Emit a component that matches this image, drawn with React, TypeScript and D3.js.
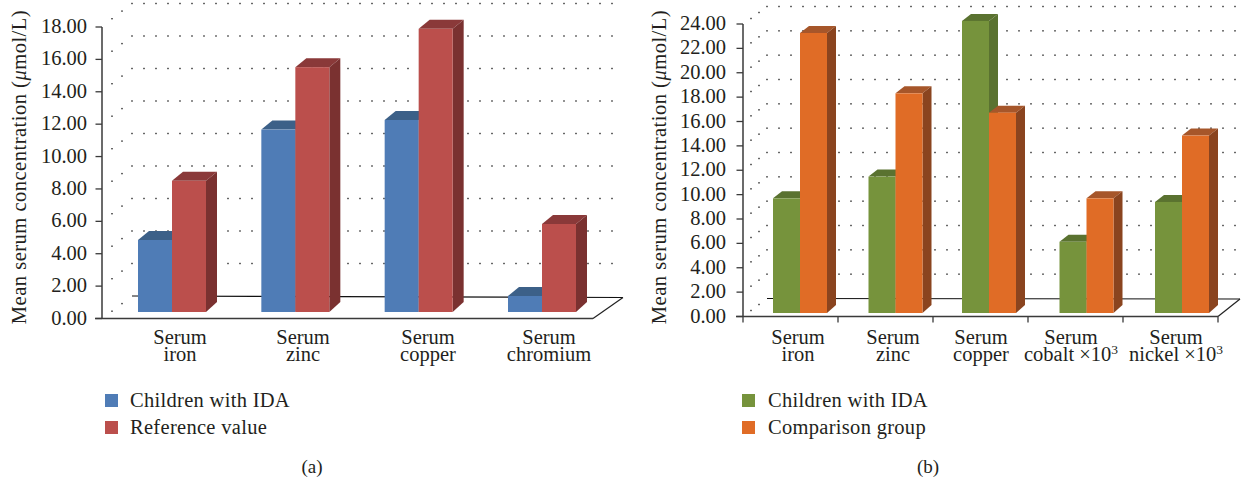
import React from "react";
import * as d3 from "d3";

// ---- data ----
const categoriesA = ["Serum iron", "Serum zinc", "Serum copper", "Serum chromium"];
const idaA = [4.5, 11.4, 12.0, 1.0];
const referenceA = [8.2, 15.3, 17.7, 5.5];
const ticksA = [0, 2, 4, 6, 8, 10, 12, 14, 16, 18];
const seriesNamesA = ["Children with IDA", "Reference value"];

const categoriesB = ["Serum iron", "Serum zinc", "Serum copper", "Serum cobalt", "Serum nickel"];
const idaB = [9.5, 11.3, 24.2, 5.9, 9.2];
const comparisonB = [23.2, 18.2, 16.6, 9.5, 14.7];
const ticksB = [0, 2, 4, 6, 8, 10, 12, 14, 16, 18, 20, 22, 24];
const seriesNamesB = ["Children with IDA", "Comparison group"];
const suffixB = ["", "", "", "×10", "×10"];

const FONT = "'Liberation Serif', serif";
const FS = 20.5;

type Palette = { front: string; top: string; side: string };
const BLUE: Palette = { front: "#4f7cb6", top: "#3c6088", side: "#3c6088" };
const RED: Palette = { front: "#bb4f4c", top: "#8a3939", side: "#7a3130" };
const GREEN: Palette = { front: "#76933c", top: "#5a7230", side: "#5a7230" };
const ORANGE: Palette = { front: "#e06c26", top: "#a6562a", side: "#8a441f" };

type Layout = {
  axisX: number; axisTop: number; axisBottom: number; axisRight: number; tickLabelX: number;
  wallLeft: number; wallRight: number; wallY0: number; wallY1: number; wallTopY: number;
  dotStep: number; sideStep: number; sideDrop: number;
  barBase: number; barPxPerUnit: number; firstBar: number; lastBar: number; barW: number; barNudge: number[];
  depthX: number; depthY: number;
  bottomTicks: boolean; labelX: number[]; legendX: number; legendTextX: number; captionX: number;
  titleX: number; titleY: number;
};

const layoutA: Layout = {
  axisX: 102, axisTop: 27, axisBottom: 318.5, axisRight: 593, tickLabelX: 87,
  wallLeft: 132, wallRight: 623, wallY0: 296, wallY1: 297.5, wallTopY: 3.5,
  dotStep: 12, sideStep: 10, sideDrop: 7.6,
  barBase: 312, barPxPerUnit: 16, firstBar: 138, lastBar: 508, barW: 34, barNudge: [0, 0, 0, 0],
  depthX: 11, depthY: 9,
  bottomTicks: false, labelX: [180, 303, 428, 549], legendX: 105, legendTextX: 130, captionX: 312,
  titleX: 26, titleY: 167,
};

const layoutB: Layout = {
  axisX: 743, axisTop: 24, axisBottom: 316.5, axisRight: 1218, tickLabelX: 726,
  wallLeft: 767, wallRight: 1240, wallY0: 298.5, wallY1: 299, wallTopY: 6.5,
  dotStep: 12, sideStep: 8, sideDrop: 6,
  barBase: 313, barPxPerUnit: 12.07, firstBar: 773, lastBar: 1155, barW: 27, barNudge: [0, 0, -2, 0, 0],
  depthX: 9, depthY: 7,
  bottomTicks: true, labelX: [798, 893, 981, 1071, 1176], legendX: 742, legendTextX: 768, captionX: 928,
  titleX: 666, titleY: 167,
};

function Panel(props: {
  categories: string[]; first: number[]; second: number[]; ticks: number[]; names: string[];
  colors: [Palette, Palette]; layout: Layout; caption: string; suffix?: string[];
}) {
  const { categories, first, second, ticks, names, colors, layout: L, caption, suffix } = props;
  const maxTick = ticks[ticks.length - 1];
  const yAxis = d3.scaleLinear().domain([0, maxTick]).range([L.axisBottom, L.axisTop]);
  const yBar = d3.scaleLinear().domain([0, 1]).range([L.barBase, L.barBase - L.barPxPerUnit]);
  const x0 = d3.scalePoint<string>().domain(categories).range([L.firstBar, L.lastBar]);
  const fmt = d3.format(".2f");
  const rowGap = (L.wallY0 - L.wallTopY) / (ticks.length - 1);
  const rows = ticks.map((_, i) => L.wallY0 - i * rowGap);
  const dotXs = d3.range(L.wallLeft, L.wallRight + 1, L.dotStep);
  const tickStep = (L.axisRight - L.axisX) / categories.length;
  const text = { fontFamily: FONT, fontSize: FS, fill: "#231f20" };
  const poly = (pts: number[][]) => pts.map((p) => p.join(",")).join(" ");

  const bar = (x: number, v: number, pal: Palette, key: string) => {
    const top = yBar(v);
    const b = L.barBase;
    const w = L.barW;
    return (
      <g key={key}>
        <polygon fill={pal.top} points={poly([[x, top], [x + L.depthX, top - L.depthY], [x + w + L.depthX, top - L.depthY], [x + w, top]])} />
        <polygon fill={pal.side} points={poly([[x + w, top], [x + w + L.depthX, top - L.depthY], [x + w + L.depthX, b - L.depthY - 1], [x + w, b]])} />
        <rect x={x} y={top} width={w} height={b - top} fill={pal.front} />
      </g>
    );
  };

  return (
    <g>
      {/* back wall and side wall dots */}
      {rows.map((y, i) => (
        <g key={i} fill="#666">
          {i > 0 && dotXs.map((x) => <rect key={x} x={x - 1} y={y - 0.7} width={2} height={1.4} />)}
          <rect x={L.wallLeft - L.sideStep - 1} y={y + L.sideDrop - 0.7} width={2} height={1.4} />
          <rect x={L.wallLeft - 2 * L.sideStep - 1} y={y + 2 * L.sideDrop - 0.7} width={2} height={1.4} />
        </g>
      ))}
      {/* floor */}
      <line x1={L.wallLeft} y1={L.wallY0} x2={L.wallRight} y2={L.wallY1} stroke="#111" strokeWidth={1.2} />
      <line x1={L.axisRight} y1={L.axisBottom} x2={L.wallRight} y2={L.wallY1} stroke="#222" strokeWidth={1.2} />
      {/* bars */}
      {categories.map((c, i) => {
        const x = x0(c)! + L.barNudge[i];
        return (
          <g key={c}>
            {bar(x, first[i], colors[0], "f")}
            {bar(x + L.barW, second[i], colors[1], "s")}
          </g>
        );
      })}
      {/* axes */}
      <line x1={L.axisX} y1={L.axisTop} x2={L.axisX} y2={L.axisBottom} stroke="#3a3a3a" strokeWidth={1.5} />
      <line x1={L.axisX - 7} y1={L.axisBottom} x2={L.axisRight} y2={L.axisBottom} stroke="#3a3a3a" strokeWidth={1.5} />
      {ticks.map((t) => (
        <g key={t}>
          <line x1={L.axisX - 6.5} x2={L.axisX} y1={yAxis(t)} y2={yAxis(t)} stroke="#3a3a3a" strokeWidth={1.3} />
          <text {...text} x={L.tickLabelX} y={yAxis(t) + 6} textAnchor="end">{fmt(t)}</text>
        </g>
      ))}
      {L.bottomTicks &&
        d3.range(categories.length + 1).map((i) => (
          <line key={i} x1={L.axisX + i * tickStep} x2={L.axisX + i * tickStep} y1={L.axisBottom} y2={L.axisBottom + 6} stroke="#3a3a3a" strokeWidth={1.3} />
        ))}
      {/* y title */}
      <text {...text} letterSpacing={0.5} transform={`translate(${L.titleX},${L.titleY}) rotate(-90)`} textAnchor="middle">
        Mean serum concentration (<tspan fontStyle="italic">μ</tspan>mol/L)
      </text>
      {/* category labels */}
      {categories.map((c, i) => {
        const [a, b] = c.split(" ");
        const suf = suffix ? suffix[i] : "";
        return (
          <g key={c} textAnchor="middle">
            <text {...text} x={L.labelX[i]} y={344}>{a}</text>
            <text {...text} x={L.labelX[i]} y={361}>
              {b}
              {suf ? ` ${suf}` : ""}
              {suf ? <tspan dy={-7} fontSize={13.5}>3</tspan> : null}
            </text>
          </g>
        );
      })}
      {/* legend */}
      {names.map((n, i) => (
        <g key={n}>
          <rect x={L.legendX} y={394 + i * 27} width={13} height={13} fill={colors[i].front} />
          <text {...text} letterSpacing={0.3} x={L.legendTextX} y={407 + i * 27}>{n}</text>
        </g>
      ))}
      <text {...text} x={L.captionX} y={473} textAnchor="middle" fontSize={19}>{caption}</text>
    </g>
  );
}

export default function App() {
  return (
    <svg width={1242} height={484} style={{ position: "fixed", left: 0, top: 0, display: "block", background: "#fff" }}>
      <Panel categories={categoriesA} first={idaA} second={referenceA} ticks={ticksA} names={seriesNamesA}
        colors={[BLUE, RED]} layout={layoutA} caption="(a)" />
      <Panel categories={categoriesB} first={idaB} second={comparisonB} ticks={ticksB} names={seriesNamesB}
        colors={[GREEN, ORANGE]} layout={layoutB} caption="(b)" suffix={suffixB} />
    </svg>
  );
}
